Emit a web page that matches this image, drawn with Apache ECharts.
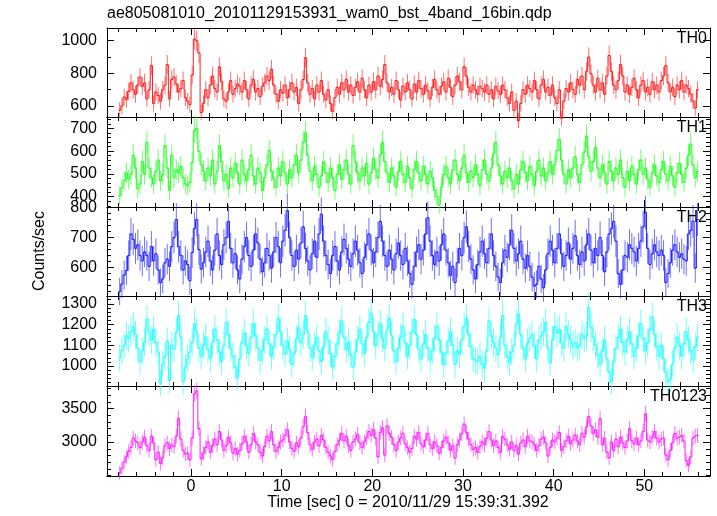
<!DOCTYPE html>
<html>
<head>
<meta charset="utf-8">
<script src="https://cdn.jsdelivr.net/npm/echarts@6/dist/echarts.min.js"></script>
<style>
html,body{margin:0;padding:0;background:#fff;}
#chart{width:717px;height:516px;}
</style>
</head>
<body>
<div id="chart"></div>
<script>
// ---------------- data ----------------
const chartTitle = 'ae805081010_20101129153931_wam0_bst_4band_16bin.qdp';
const xAxisTitle = 'Time [sec] 0 = 2010/11/29 15:39:31.392';
const yAxisTitle = 'Counts/sec';
const panelNames = ['TH0', 'TH1', 'TH2', 'TH3', 'TH0123'];
const binStart = -7.875;   // centre of first time bin (s)
const binWidth = 0.25;     // bin width (s)

const th0 = [
 575,600,655,640,690,742,700,672,728,777,721,742,644,700,847,616,
 686,665,630,700,728,854,644,763,777,735,686,707,756,651,630,609,
 790,1010,1000,925,560,616,700,651,728,784,707,686,840,749,644,630,
 686,756,672,707,735,721,686,756,700,644,728,763,686,707,658,721,
 742,784,756,826,728,672,630,700,679,728,651,700,742,686,714,616,
 700,763,896,742,672,707,644,728,686,756,672,637,700,616,567,651,
 714,672,742,700,763,686,728,665,714,749,686,770,700,651,728,686,
 749,700,784,721,763,854,742,686,714,672,756,700,637,721,686,742,
 700,644,735,686,756,707,672,728,693,644,714,763,700,672,721,749,
 686,770,714,658,728,784,749,700,840,784,714,686,728,700,672,721,
 707,686,728,672,700,644,721,693,672,728,700,651,616,686,574,630,
 511,616,700,672,728,707,686,756,700,644,728,763,686,714,665,728,
 651,616,700,525,630,707,686,742,700,672,763,728,784,700,812,900,
 798,728,686,770,700,742,672,784,910,812,728,700,756,854,784,686,
 728,672,714,770,700,651,728,756,686,714,672,749,700,728,686,756,
 784,847,742,686,714,658,728,700,756,686,728,707,672,630,588,700
];
const th1 = [
 405,440,470,505,477,498,582,526,435,456,554,498,638,526,484,456,
 512,561,470,498,624,526,428,582,484,519,505,533,484,456,449,463,
 550,690,700,600,540,512,470,526,491,561,456,512,624,554,470,498,
 435,526,484,547,505,456,561,498,470,519,582,491,456,526,505,428,
 484,540,603,512,477,442,526,491,554,505,456,519,484,540,582,505,
 561,638,680,582,512,470,533,498,442,491,554,505,463,526,484,428,
 498,540,477,519,561,498,456,624,554,505,470,526,491,547,456,505,
 568,519,484,582,638,554,505,463,526,491,442,512,554,498,463,533,
 484,435,519,554,505,470,533,498,456,512,484,428,400,365,442,498,
 533,484,456,519,561,498,470,526,582,505,463,512,484,540,498,449,
 519,561,498,470,526,589,638,540,491,456,512,484,526,470,435,498,
 456,519,554,505,470,533,498,449,512,561,491,526,470,505,554,498,
 540,603,652,561,498,456,519,484,526,575,498,463,540,596,666,575,
 512,554,617,526,484,540,505,456,554,512,470,526,498,561,484,442,
 512,470,533,498,456,519,561,498,526,477,442,505,540,491,463,519,
 554,498,470,533,491,442,505,547,498,463,526,582,631,540,484,512
];
const th2 = [
 520,545,575,590,640,712,694,664,676,640,622,652,640,604,670,622,
 646,592,550,562,616,628,604,670,700,760,670,640,592,622,610,556,
 650,730,760,660,595,616,652,688,622,592,658,712,640,610,676,700,
 754,664,616,646,592,562,628,670,700,640,604,658,712,682,628,586,
 616,664,640,598,652,700,670,616,688,724,790,700,640,604,658,628,
 682,736,664,622,592,646,688,634,712,778,688,640,610,580,640,670,
 622,592,652,694,664,628,604,646,688,658,616,580,634,676,712,658,
 616,652,700,754,688,640,604,658,628,592,646,682,640,610,664,622,
 580,544,604,652,676,628,658,712,766,688,640,610,652,622,676,712,
 658,616,574,604,550,616,664,640,700,736,670,628,592,562,610,652,
 688,646,616,664,712,640,604,568,550,616,658,634,676,724,664,622,
 646,688,628,598,640,604,568,538,544,604,562,532,592,646,688,658,
 616,664,712,646,604,640,682,628,664,706,640,610,652,622,676,712,
 658,616,664,640,700,640,586,652,712,730,754,688,580,544,592,640,
 634,676,664,652,622,664,688,736,784,664,610,646,676,652,640,658,
 640,550,580,616,658,676,652,634,646,628,622,712,724,754,598,760
];
const th3 = [
 1040,1075,1100,1146,1133,1165,1191,1152,1087,1022,1074,1113,1224,1165,1126,1178,
 1113,1068,918,1009,1048,1120,931,1100,1081,1165,1243,1139,925,996,1035,1068,
 1113,1204,1165,1087,1048,1100,1139,1081,1035,1113,1178,1126,1068,1022,1100,1211,
 1152,1087,1048,996,944,1035,1113,1159,1100,1061,1139,1204,1146,1087,1029,1074,
 1126,1178,1107,1048,1094,1152,1230,1165,1100,1061,1120,1081,1009,1061,1133,1185,
 1113,1152,1243,1165,1087,1042,1100,1139,1074,1022,1094,1165,1126,1061,996,1048,
 1107,1159,1217,1139,1081,1113,1055,996,1068,1126,1178,1107,1061,1139,1211,1256,
 1165,1100,1152,1204,1133,1087,1178,1230,1146,1074,1022,1087,1139,1191,1113,1048,
 1100,1165,1224,1152,1081,1035,1107,1152,1087,1029,1074,1133,1191,1126,1068,1009,
 1061,1120,1165,1100,1009,1074,1055,1126,1191,1230,1152,1094,1035,1029,1022,1048,
 1009,990,1074,1217,1146,1113,1087,1055,1139,1243,1100,1048,1016,1068,1100,1204,
 1250,1152,1087,1035,1113,1133,1152,1100,1035,1126,1146,1165,1211,1087,1016,1126,
 1191,1159,1178,1113,1087,1191,1152,1126,1094,1113,1087,1100,1152,1133,1146,1282,
 1185,1139,1100,1055,1009,1074,1126,1035,970,925,1022,1087,1139,1178,1113,1068,
 1126,1165,1107,1048,1087,1146,1204,1133,1074,1113,1178,1237,1152,1094,1048,1100,
 1035,970,925,938,1009,1087,1139,1100,1048,1107,1165,1126,1074,1029,1094,1139
];
const th0123 = [
 2540,2610,2700,2780,2860,2920,3058,3016,2988,2918,3002,3072,2946,2876,3086,2988,
 2736,2848,2680,2764,2946,2988,2904,2960,2932,3086,3352,3044,2876,2820,2834,2736,
 3060,3720,3760,3200,2750,2834,2918,3002,2848,2946,3044,2960,3156,3030,2876,2946,
 3072,2988,2834,2904,2820,2876,2974,3086,3002,2848,2960,3128,3002,2960,2848,2792,
 2932,3086,3016,3156,2960,2862,2918,3002,3030,3100,3184,3002,2904,2862,2988,2932,
 3058,3226,3380,3142,2960,2890,3002,3044,2946,3100,3030,2918,2848,2792,2736,2862,
 2960,3030,3128,3016,3086,2946,2876,3002,3044,3114,2988,2918,3002,3072,3156,3100,
 3184,3058,2778,3142,3212,2806,3240,3128,3072,2960,2876,3002,3058,3128,2974,2918,
 2848,2904,3086,3044,3142,2974,2932,3030,3128,2960,2904,3002,2946,2834,2918,3016,
 3072,2988,2876,2946,2764,2960,3030,3128,3268,3142,3044,2960,2890,2918,2848,2932,
 3002,2960,3058,3156,3030,2946,3016,2918,2848,3086,3044,2960,2890,3002,2876,2946,
 2820,2988,3030,2932,3086,3016,3002,2960,2876,2946,3044,3072,2988,2792,2918,3030,
 3002,3058,3142,2876,2932,3016,3086,2974,3030,3100,3016,2960,3128,3072,3226,3380,
 3240,3128,3184,3072,3350,2960,3058,2848,2764,3002,2876,3044,2932,3072,2988,2918,
 3016,3198,3016,2974,3058,2960,3016,3156,3420,3030,3002,3072,3156,3058,3002,3044,
 3058,2806,2736,2876,2988,3128,3058,3072,3100,3016,2722,2652,2778,3058,3086,3100
];
const panelSeries = [th0, th1, th2, th3, th0123];

// axis ranges and tick labels
const xRange = [-9.27, 57.25];
const xTickLabels = [0, 10, 20, 30, 40, 50];
const xMinorStep = 2;
const yRanges = [[533, 1078], [355, 750], [505, 802], [904, 1338], [2494, 3835]];
const yTickLabels = [[600, 800, 1000], [400, 500, 600, 700], [600, 700, 800], [1000, 1100, 1200, 1300], [3000, 3500]];
const yMinorSteps = [100, 20, 20, 20, 100];

// ---------------- style / layout ----------------
const FONT = '"Liberation Sans", Arial, Helvetica, sans-serif';
const colors = ['#ff2020', '#20ff20', '#2020ff', '#20ffff', '#ff20ff'];
const gridTops = [28, 117, 207, 296, 386];
const gridHeights = [89, 90, 89, 90, 90];
const plotLeft = 107, plotWidth = 603;

function stepValues(lo, hi, step) {
  const out = [];
  for (let v = Math.ceil(lo / step) * step; v <= hi + 1e-9; v += step) out.push(Math.round(v * 1000) / 1000);
  return out;
}

const grids = [], xAxes = [], yAxes = [], series = [], titles = [];
titles.push({
  text: chartTitle, left: 107, top: 6, padding: 0,
  textStyle: { fontSize: 16, fontWeight: 'normal', color: '#000', fontFamily: FONT }
});

const blackLine = { color: '#000', width: 1 };
const xMinorVals = stepValues(xRange[0], xRange[1], xMinorStep);

function makeRenderItem(values) {
  return function (params, api) {
    const i = params.dataIndex;
    const t = api.value(0), v = api.value(1), e = api.value(2);
    const pL = api.coord([t - binWidth / 2, v]);
    const pR = api.coord([t + binWidth / 2, v]);
    const pT = api.coord([t, v + e]);
    const pB = api.coord([t, v - e]);
    const color = api.visual('color');
    const children = [
      { type: 'line', shape: { x1: pT[0], y1: pT[1], x2: pB[0], y2: pB[1] },
        style: { stroke: color, lineWidth: 1, opacity: 0.65 } },
      { type: 'line', shape: { x1: pL[0], y1: pL[1], x2: pR[0], y2: pR[1] },
        style: { stroke: color, lineWidth: 1.2 } }
    ];
    if (i > 0) {
      const pPrev = api.coord([t - binWidth / 2, values[i - 1]]);
      children.push({ type: 'line', shape: { x1: pL[0], y1: pPrev[1], x2: pL[0], y2: pL[1] },
                      style: { stroke: color, lineWidth: 1 } });
    }
    return { type: 'group', children: children };
  };
}

panelNames.forEach((name, g) => {
  grids.push({ left: plotLeft, top: gridTops[g], width: plotWidth, height: gridHeights[g],
               containLabel: false, outerBoundsMode: 'none', show: false });
  const baseX = { gridIndex: g, type: 'value', min: xRange[0], max: xRange[1],
                  splitLine: { show: false }, axisPointer: { show: false } };
  const isLast = g === panelNames.length - 1;
  xAxes.push(Object.assign({}, baseX, {
    position: 'bottom',
    axisLine: { show: true, onZero: false, lineStyle: blackLine },
    axisTick: { show: true, inside: true, length: 7, customValues: xTickLabels, lineStyle: blackLine },
    axisLabel: isLast ? { show: true, customValues: xTickLabels, formatter: v => String(v), margin: 3,
                          color: '#000', fontSize: 16, fontFamily: FONT } : { show: false }
  }));
  xAxes.push(Object.assign({}, baseX, {
    position: 'bottom',
    axisLine: { show: false, onZero: false },
    axisTick: { show: true, inside: true, length: 4, customValues: xMinorVals, lineStyle: blackLine },
    axisLabel: { show: false }
  }));
  xAxes.push(Object.assign({}, baseX, {
    position: 'top',
    axisLine: { show: true, onZero: false, lineStyle: blackLine },
    axisTick: { show: true, inside: true, length: 7, customValues: xTickLabels, lineStyle: blackLine },
    axisLabel: { show: false }
  }));
  xAxes.push(Object.assign({}, baseX, {
    position: 'top',
    axisLine: { show: false, onZero: false },
    axisTick: { show: true, inside: true, length: 4, customValues: xMinorVals, lineStyle: blackLine },
    axisLabel: { show: false }
  }));

  const yr = yRanges[g];
  const yMinorVals = stepValues(yr[0], yr[1], yMinorSteps[g]);
  const baseY = { gridIndex: g, type: 'value', min: yr[0], max: yr[1],
                  splitLine: { show: false }, axisPointer: { show: false } };
  yAxes.push(Object.assign({}, baseY, {
    position: 'left',
    axisLine: { show: true, onZero: false, lineStyle: blackLine },
    axisTick: { show: true, inside: true, length: 7, customValues: yTickLabels[g], lineStyle: blackLine },
    axisLabel: { show: true, customValues: yTickLabels[g], formatter: v => String(v), margin: 10,
                 color: '#000', fontSize: 16, fontFamily: FONT }
  }));
  yAxes.push(Object.assign({}, baseY, {
    position: 'left',
    axisLine: { show: false, onZero: false },
    axisTick: { show: true, inside: true, length: 4, customValues: yMinorVals, lineStyle: blackLine },
    axisLabel: { show: false }
  }));
  yAxes.push(Object.assign({}, baseY, {
    position: 'right',
    axisLine: { show: true, onZero: false, lineStyle: blackLine },
    axisTick: { show: true, inside: true, length: 7, customValues: yTickLabels[g], lineStyle: blackLine },
    axisLabel: { show: false }
  }));
  yAxes.push(Object.assign({}, baseY, {
    position: 'right',
    axisLine: { show: false, onZero: false },
    axisTick: { show: true, inside: true, length: 4, customValues: yMinorVals, lineStyle: blackLine },
    axisLabel: { show: false }
  }));

  const values = panelSeries[g];
  const data = values.map((v, i) => [binStart + i * binWidth, v, Math.sqrt(v / binWidth)]);
  series.push({
    type: 'custom', name: name, xAxisIndex: 4 * g, yAxisIndex: 4 * g,
    data: data, renderItem: makeRenderItem(values), clip: false, silent: true, animation: false,
    progressive: 0, itemStyle: { color: colors[g] }, z: 2
  });

  titles.push({
    text: name, right: 10, top: gridTops[g] + 3, padding: 0,
    textStyle: { fontSize: 16, fontWeight: 'normal', color: '#000', fontFamily: FONT }
  });
});

const chart = echarts.init(document.getElementById('chart'), null, { renderer: 'canvas' });
chart.setOption({
  backgroundColor: '#fff',
  animation: false,
  title: titles,
  grid: grids,
  xAxis: xAxes,
  yAxis: yAxes,
  series: series,
  graphic: [
    { type: 'text', x: 408, y: 503, silent: true,
      style: { text: xAxisTitle, font: '16px ' + FONT, fill: '#000', textAlign: 'center', textVerticalAlign: 'middle' } },
    { type: 'text', x: 40, y: 251, rotation: Math.PI / 2, silent: true,
      style: { text: yAxisTitle, font: '16px ' + FONT, fill: '#000', textAlign: 'center', textVerticalAlign: 'middle' } }
  ]
});
</script>
</body>
</html>
